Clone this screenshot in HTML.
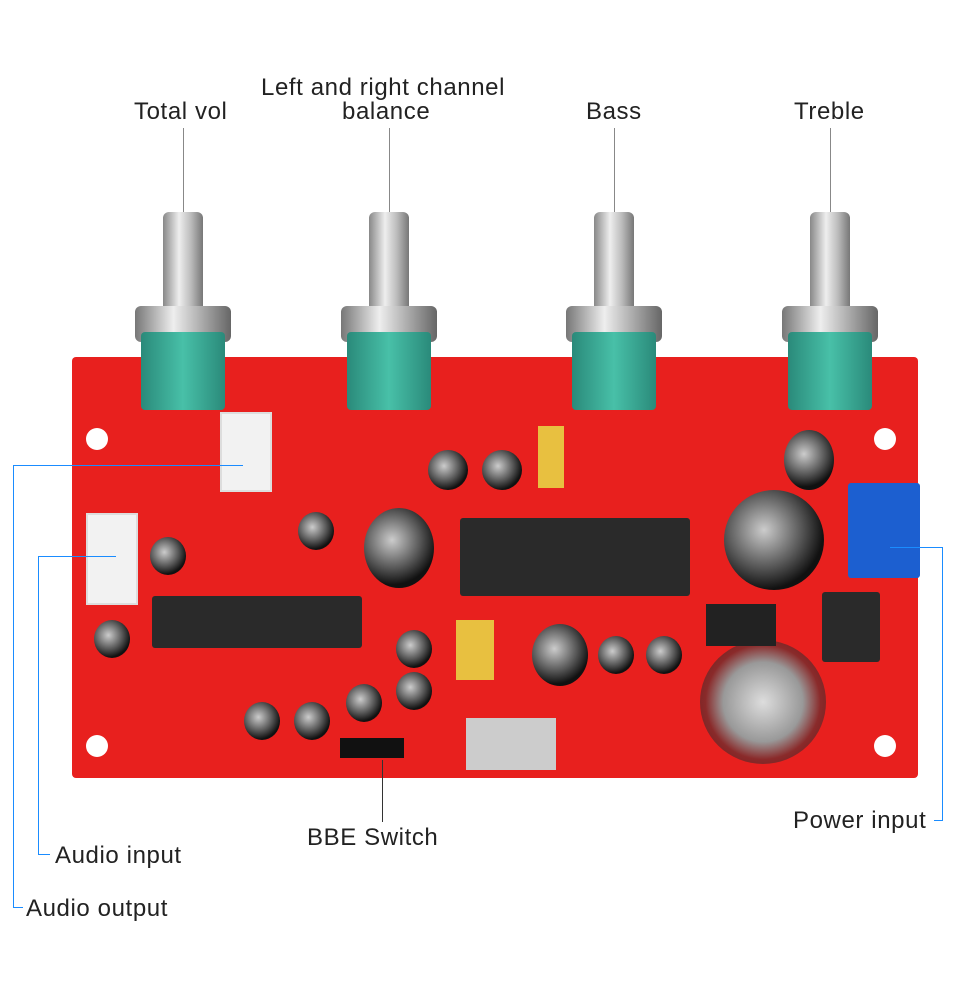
<!DOCTYPE html><html><head><style>
body{margin:0;width:960px;height:1000px;background:#fff;position:relative;overflow:hidden;font-family:"Liberation Sans","Noto Sans CJK SC",sans-serif}
div{position:absolute;box-sizing:border-box}
.t{font-size:24px;color:#222;white-space:nowrap;letter-spacing:0.6px}
.v{width:1px;background:#888}
.b{background:#1a8cff}
.shaft{width:40px;background:linear-gradient(90deg,#888,#eee 40%,#bbb 70%,#777);border-radius:6px 6px 0 0}
.nut{width:96px;height:36px;background:linear-gradient(90deg,#777,#eee 40%,#aaa 70%,#666);border-radius:6px}
.grn{width:84px;height:78px;background:linear-gradient(90deg,#2a8a7a,#48c0a8 50%,#2a8a7a);border-radius:4px}
.hole{width:22px;height:22px;border-radius:50%;background:#fff}
.chip{background:#2a2a2a;border-radius:3px}
.cap{border-radius:50%;background:radial-gradient(circle at 40% 40%,#ccc,#555 45%,#111 70%)}
.conn{background:#f2f2f2;border:2px solid #ddd}
</style></head><body>
<div class="t" style="left:134px;top:98px">Total vol</div>
<div class="t" style="left:261px;top:74px">Left and right channel</div>
<div class="t" style="left:342px;top:98px">balance</div>
<div class="t" style="left:586px;top:98px">Bass</div>
<div class="t" style="left:794px;top:98px">Treble</div>
<div class="v" style="left:183px;top:128px;height:90px"></div>
<div class="v" style="left:389px;top:128px;height:90px"></div>
<div class="v" style="left:614px;top:128px;height:90px"></div>
<div class="v" style="left:830px;top:128px;height:90px"></div>

<div style="left:72px;top:357px;width:846px;height:421px;background:#e8201e;border-radius:4px"></div>
<div class="hole" style="left:86px;top:428px"></div><div class="hole" style="left:874px;top:428px"></div>
<div class="hole" style="left:86px;top:735px"></div><div class="hole" style="left:874px;top:735px"></div>

<div class="shaft" style="left:163px;top:212px;height:100px"></div><div class="nut" style="left:135px;top:306px"></div><div class="grn" style="left:141px;top:332px"></div>
<div class="shaft" style="left:369px;top:212px;height:100px"></div><div class="nut" style="left:341px;top:306px"></div><div class="grn" style="left:347px;top:332px"></div>
<div class="shaft" style="left:594px;top:212px;height:100px"></div><div class="nut" style="left:566px;top:306px"></div><div class="grn" style="left:572px;top:332px"></div>
<div class="shaft" style="left:810px;top:212px;height:100px"></div><div class="nut" style="left:782px;top:306px"></div><div class="grn" style="left:788px;top:332px"></div>

<div class="conn" style="left:220px;top:412px;width:52px;height:80px"></div>
<div class="conn" style="left:86px;top:513px;width:52px;height:92px"></div>
<div class="chip" style="left:152px;top:596px;width:210px;height:52px"></div>
<div class="chip" style="left:460px;top:518px;width:230px;height:78px"></div>
<div class="cap" style="left:364px;top:508px;width:70px;height:80px"></div>
<div class="cap" style="left:724px;top:490px;width:100px;height:100px"></div>
<div class="cap" style="left:784px;top:430px;width:50px;height:60px"></div>
<div style="left:700px;top:640px;width:126px;height:124px;border-radius:50%;background:radial-gradient(circle,#ddd,#999 45%,#8a2a2a 65%,#5a1a1a)"></div>
<div style="left:848px;top:483px;width:72px;height:95px;background:#1c5fd0;border-radius:3px"></div>
<div class="chip" style="left:822px;top:592px;width:58px;height:70px"></div>
<div style="left:706px;top:604px;width:70px;height:42px;background:#222"></div>
<div style="left:466px;top:718px;width:90px;height:52px;background:#ccc"></div>
<div style="left:538px;top:426px;width:26px;height:62px;background:#e8c040"></div>
<div style="left:456px;top:620px;width:38px;height:60px;background:#e8c040"></div>
<div class="cap" style="left:532px;top:624px;width:56px;height:62px"></div>
<div class="cap" style="left:428px;top:450px;width:40px;height:40px"></div>
<div class="cap" style="left:482px;top:450px;width:40px;height:40px"></div>
<div class="cap" style="left:298px;top:512px;width:36px;height:38px"></div>
<div class="cap" style="left:150px;top:537px;width:36px;height:38px"></div>
<div class="cap" style="left:94px;top:620px;width:36px;height:38px"></div>
<div class="cap" style="left:598px;top:636px;width:36px;height:38px"></div>
<div class="cap" style="left:646px;top:636px;width:36px;height:38px"></div>
<div class="cap" style="left:396px;top:630px;width:36px;height:38px"></div>
<div class="cap" style="left:396px;top:672px;width:36px;height:38px"></div>
<div class="cap" style="left:346px;top:684px;width:36px;height:38px"></div>
<div class="cap" style="left:244px;top:702px;width:36px;height:38px"></div>
<div class="cap" style="left:294px;top:702px;width:36px;height:38px"></div>
<div style="left:340px;top:738px;width:64px;height:20px;background:#111"></div>

<div style="left:13px;top:465px;width:230px;height:1px;background:#1a8cff"></div>
<div style="left:13px;top:465px;width:1px;height:443px;background:#1a8cff"></div>
<div style="left:13px;top:907px;width:10px;height:1px;background:#1a8cff"></div>
<div class="b" style="left:38px;top:556px;width:78px;height:1px"></div>
<div class="b" style="left:38px;top:556px;width:1px;height:299px"></div>
<div class="b" style="left:38px;top:854px;width:12px;height:1px"></div>
<div class="b" style="left:890px;top:547px;width:53px;height:1px"></div>
<div class="b" style="left:942px;top:547px;width:1px;height:274px"></div>
<div class="b" style="left:934px;top:820px;width:9px;height:1px"></div>
<div class="v" style="left:382px;top:760px;height:62px;background:#333"></div>
<div class="t" style="left:26px;top:895px">Audio output</div>
<div class="t" style="left:55px;top:842px">Audio input</div>
<div class="t" style="left:307px;top:824px">BBE Switch</div>
<div class="t" style="left:793px;top:807px">Power input</div>
</body></html>
